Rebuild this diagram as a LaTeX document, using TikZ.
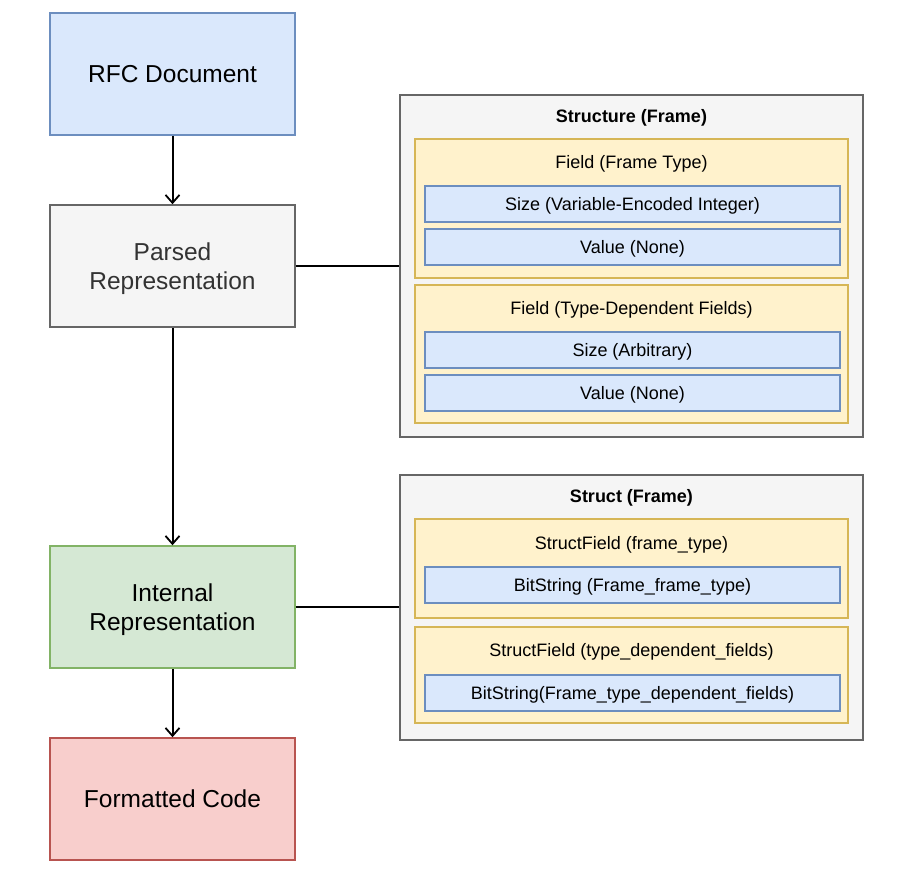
\documentclass[tikz,border=0pt]{standalone}
\usepackage{fontspec}
\setmainfont{Liberation Sans}
\usetikzlibrary{arrows.meta}

\definecolor{blueFill}{HTML}{DAE8FC}
\definecolor{blueLine}{HTML}{6C8EBF}
\definecolor{grayFill}{HTML}{F5F5F5}
\definecolor{grayLine}{HTML}{666666}
\definecolor{greenFill}{HTML}{D5E8D4}
\definecolor{greenLine}{HTML}{82B366}
\definecolor{redFill}{HTML}{F8CECC}
\definecolor{redLine}{HTML}{B85450}
\definecolor{yellowFill}{HTML}{FFF2CC}
\definecolor{yellowLine}{HTML}{D6B656}

\tikzset{
    stage/.style={draw, line width=1.5pt, minimum width=245pt, minimum height=122pt,
        align=center, text depth=0pt, font=\fontsize{24.5}{29}\selectfont},
    container/.style={draw=grayLine, fill=grayFill, line width=1.5pt, minimum width=463pt},
    fieldbox/.style={draw=yellowLine, fill=yellowFill, line width=1.5pt, minimum width=433pt},
    leaf/.style={draw=blueLine, fill=blueFill, line width=1.5pt, minimum width=415pt,
        minimum height=36pt, text depth=0pt, font=\fontsize{18}{21}\selectfont},
    caption/.style={text depth=0pt, font=\fontsize{18}{21}\selectfont},
    flow/.style={line width=2pt, -{Straight Barb[length=8pt,width=14pt,line width=1.8pt]}},
    link/.style={line width=2pt}
}

\begin{document}
\begin{tikzpicture}[x=1pt, y=-1pt]
                \useasboundingbox (0,0) rectangle (904,882);

                \node[stage, draw=blueLine, fill=blueFill] (rfc) at (172.5,74) {RFC Document};
                \node[stage, draw=grayLine, fill=grayFill, text=black!80] (parsed) at (172.5,266) {Parsed\\Representation};
                \node[stage, draw=greenLine, fill=greenFill] (internal) at (172.5,607) {Internal\\Representation};
                \node[stage, draw=redLine, fill=redFill] (formatted) at (172.5,799) {Formatted Code};

                % parsed structure
                \node[container, minimum height=342pt] (structure) at (631.5,266) {};
                \node[caption, font=\fontsize{18}{21}\selectfont\bfseries] (structureTitle) at (631.5,116) {Structure (Frame)};
                \node[fieldbox, minimum height=139pt] (fieldA) at (631.5,208.5) {};
                \node[caption] (fieldATitle) at (631.5,162) {Field (Frame Type)};
                \node[leaf] (sizeA) at (632.5,204) {Size (Variable-Encoded Integer)};
                \node[leaf] (valueA) at (632.5,247) {Value (None)};
                \node[fieldbox, minimum height=138pt] (fieldB) at (631.5,354) {};
                \node[caption] (fieldBTitle) at (631.5,308) {Field (Type-Dependent Fields)};
                \node[leaf] (sizeB) at (632.5,350) {Size (Arbitrary)};
                \node[leaf] (valueB) at (632.5,393) {Value (None)};

                % internal struct
                \node[container, minimum height=265pt] (struct) at (631.5,607.5) {};
                \node[caption, font=\fontsize{18}{21}\selectfont\bfseries] (structTitle) at (631.5,496) {Struct (Frame)};
                \node[fieldbox, minimum height=99pt] (structFieldA) at (631.5,568.5) {};
                \node[caption] (structFieldATitle) at (631.5,543) {StructField (frame\_type)};
                \node[leaf] (bitsA) at (632.5,585) {BitString (Frame\_frame\_type)};
                \node[fieldbox, minimum height=96pt] (structFieldB) at (631.5,675) {};
                \node[caption] (structFieldBTitle) at (631.5,650) {StructField (type\_dependent\_fields)};
                \node[leaf] (bitsB) at (632.5,693) {BitString(Frame\_type\_dependent\_fields)};

                \draw[flow] (rfc) to (parsed); \draw[flow] (parsed) to (internal); \draw[flow] (internal) to (formatted);
                \draw[link] (parsed) to (structure); \draw[link] (internal) to (struct.west |- internal);
\end{tikzpicture}
\end{document}
